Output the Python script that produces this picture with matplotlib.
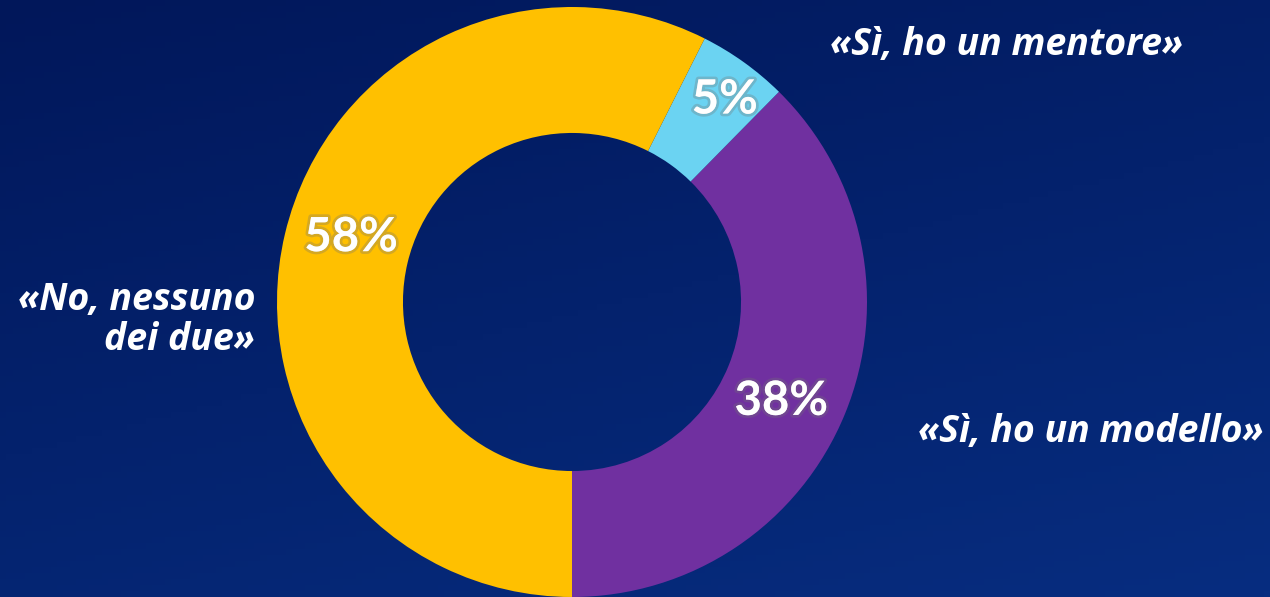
import numpy as np
import matplotlib.pyplot as plt
import matplotlib.patheffects as pe

# data
labels = ['«Sì, ho un modello»', '«Sì, ho un mentore»', '«No, nessuno\ndei due»']
values = [38, 5, 58]
pct_text = ['38%', '5%', '58%']
colors = ['#7030A0', '#6BD3F2', '#FFC000']

W, H = 1270, 597
fig = plt.figure(figsize=(W / 100, H / 100), dpi=100)

# background gradient
bg = fig.add_axes([0, 0, 1, 1])
gx, gy = np.meshgrid(np.linspace(0, 1, 200), np.linspace(0, 1, 100))
t = 0.35 * gx + 0.65 * gy
c0 = np.array([0x01, 0x17, 0x5a]) / 255
c1 = np.array([0x07, 0x2d, 0x80]) / 255
img = c0[None, None, :] * (1 - t[..., None]) + c1[None, None, :] * t[..., None]
bg.imshow(img, aspect='auto', extent=[0, 1, 0, 1], origin='upper')
bg.axis('off')

# donut
cx, cy, r = 572, 302, 295
ax = fig.add_axes([(cx - r) / W, (H - cy - r) / H, 2 * r / W, 2 * r / H])
wedges, _ = ax.pie(values, colors=colors, startangle=-90, counterclock=True,
                   radius=1, wedgeprops=dict(width=0.427, linewidth=0))
ax.set_xlim(-1, 1)
ax.set_ylim(-1, 1)
ax.set_aspect('equal')
ax.axis('off')

glow = [pe.withStroke(linewidth=4, foreground=(0.45, 0.45, 0.45, 0.3))]
pct_r = [0.785, 0.86, 0.78]
pct_shift = [-3, -1.4, -3]
for w, txt, pr, sh in zip(wedges, pct_text, pct_r, pct_shift):
    ang = np.deg2rad((w.theta1 + w.theta2) / 2 + sh)
    ax.text(pr * np.cos(ang), pr * np.sin(ang), txt, ha='center', va='center',
            fontsize=34, fontweight='bold', color='white', family='Lato',
            path_effects=glow)

lab_kw = dict(fontsize=27, fontweight='bold', style='italic', color='white',
              family='Open Sans')
fig.text(1007 / W, 1 - 45 / H, labels[1], ha='center', va='center', **lab_kw)
fig.text(1264 / W, 1 - 432 / H, labels[0], ha='right', va='center', **lab_kw)
fig.text(255 / W, 1 - 320 / H, labels[2], ha='right', va='center',
         linespacing=1.05, **lab_kw)

fig.savefig('out.png', dpi=100)
